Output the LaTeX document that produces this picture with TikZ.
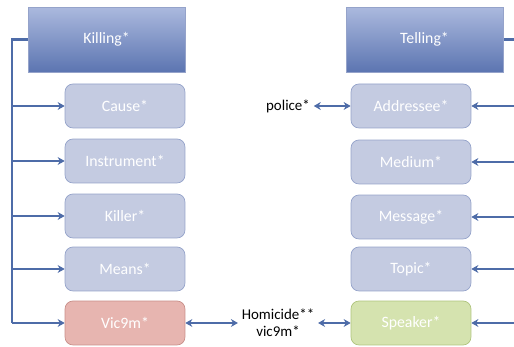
\documentclass[tikz,border=0pt]{standalone}
\usepackage{fontspec}
\setmainfont{Carlito}
\usepackage{tikz}
\usetikzlibrary{positioning}
\usetikzlibrary{arrows.meta}
\pgfdeclarelayer{background}
\pgfdeclarelayer{foreground}
\pgfsetlayers{background,main,foreground}
\definecolor{linkblue}{HTML}{4E6CA8}
\definecolor{frametop}{HTML}{ABB9DE}
\definecolor{framebot}{HTML}{5C75B1}
\definecolor{roleface}{HTML}{C4CBE1}
\definecolor{roleline}{HTML}{95A3CA}
\definecolor{victface}{HTML}{E7B5B0}
\definecolor{victline}{HTML}{C88F89}
\definecolor{spkface}{HTML}{D5E3AF}
\definecolor{spkline}{HTML}{AFC47D}

\begin{document}
\begin{tikzpicture}[x=0.02cm,y=-0.02cm,
			>={Stealth[length=4pt,width=4.5pt]},
			framenode/.style={rectangle, draw=roleline, top color=frametop, bottom color=framebot, minimum width=3.14cm, minimum height=1.3cm, text=white, font=\fontsize{9}{11}\selectfont},
			rolenode/.style={rectangle, rounded corners=0.16cm, draw=roleline, fill=roleface, minimum width=2.4cm, minimum height=0.88cm, text=white, font=\fontsize{9}{11}\selectfont},
			fillernode/.style={inner sep=2pt, align=center, font=\fontsize{8.5}{9.5}\selectfont},
			bus/.style={linkblue, line width=1.3pt},
			link/.style={linkblue, line width=0.9pt},
			]
			\useasboundingbox (0,0) rectangle (514,347);
			%Nodes
			\node[framenode]      (killing)    at 	(106.5,39.5)	{Killing*};
			\node[framenode]      (telling)    at 	(424.5,39.5)	{Telling*};
			\node[rolenode]      (cause)      at 	(125,106)	{Cause*};
			\node[rolenode]      (instrument) at 	(125,161)	{Instrument*};
			\node[rolenode]      (killer)     at 	(125,216)	{Killer*};
			\node[rolenode]      (means)      at 	(125,269)	{Means*};
			\node[rolenode, draw=victline, fill=victface]      (victim)     at 	(125,323)	{Vic9m*};
			\node[rolenode]      (addressee)  at 	(411,106)	{Addressee*};
			\node[rolenode]      (medium)     at 	(411,162)	{Medium*};
			\node[rolenode]      (message)    at 	(411,217)	{Message*};
			\node[rolenode]      (topic)      at 	(411,269)	{Topic*};
			\node[rolenode, draw=spkline, fill=spkface]      (speaker)    at 	(411,323)	{Speaker*};
			\node[fillernode]      (police)     at 	(288,106)	{police*};
			\node[fillernode]      (homicide)   at 	(278,323)	{Homicide**\\vic9m*};
			\coordinate (lbus) at (12,323);
			\coordinate (rbus) at (520,323);
			
			\begin{pgfonlayer}{background}
			%Lines
			\draw[bus] (killing.west) -| (lbus);
			\draw[bus] (telling.east) -| (rbus);
			\draw[link,->] (lbus |- cause) -- (cause.west);
			\draw[link,->] (lbus |- instrument) -- (instrument.west);
			\draw[link,->] (lbus |- killer) -- (killer.west);
			\draw[link,->] (lbus |- means) -- (means.west);
			\draw[link,->] (lbus) -- (victim.west);
			\draw[link,->] (rbus |- addressee) -- (addressee.east);
			\draw[link,->] (rbus |- medium) -- (medium.east);
			\draw[link,->] (rbus |- message) -- (message.east);
			\draw[link,->] (rbus |- topic) -- (topic.east);
			\draw[link,->] (rbus) -- (speaker.east);
			\draw[link,<->] (police.east) -- (addressee.west);
			\draw[link,<->] (victim.east) -- (homicide.west);
			\draw[link,<->] (homicide.east) -- (speaker.west);
			\end{pgfonlayer}
		\end{tikzpicture}
\end{document}
